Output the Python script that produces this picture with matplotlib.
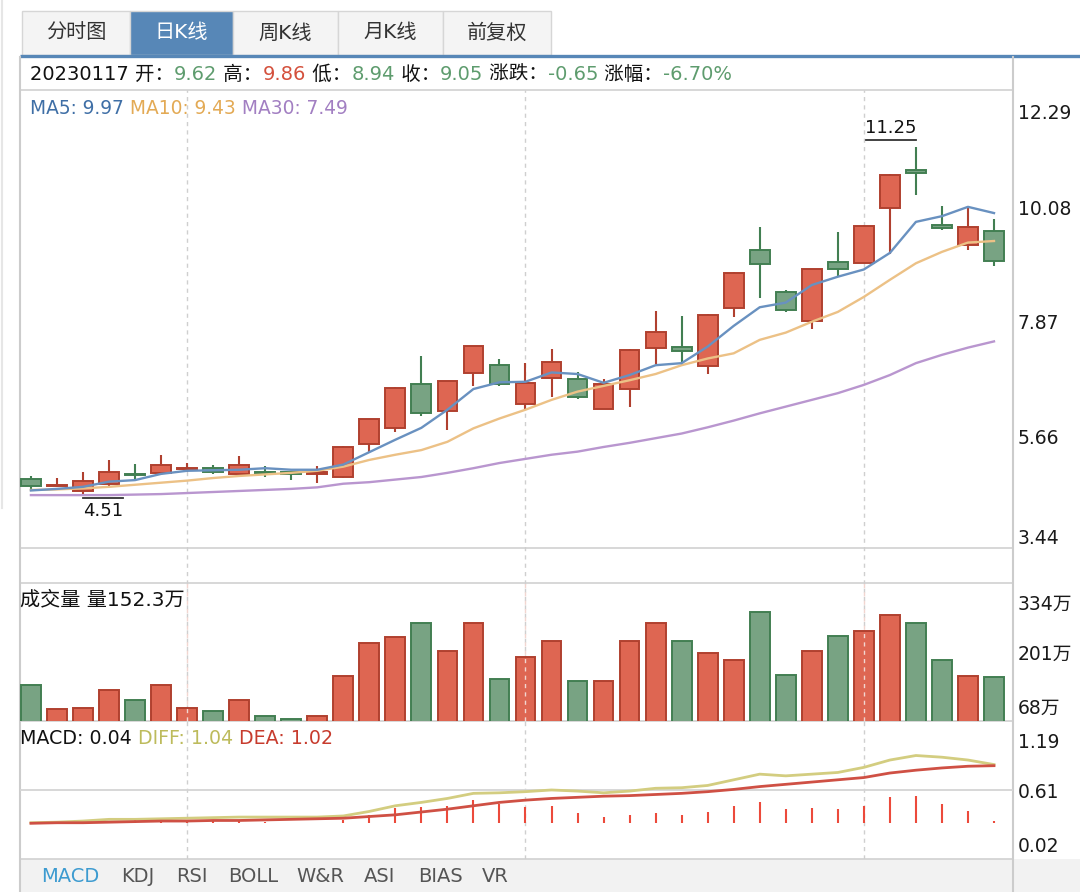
import numpy as np
import matplotlib.pyplot as plt
from matplotlib.patches import Rectangle
from matplotlib.transforms import ScaledTranslation

plt.rcParams['font.family'] = ['DejaVu Sans', 'Noto Sans CJK SC']

# ---------------- data ----------------
day = "20230117"
opens = [4.83, 4.69, 4.59, 4.73, 4.92, 4.94, 5.02, 5.04, 4.93, 4.96,
         4.97, 4.92, 4.87, 5.50, 5.81, 6.66, 6.15, 6.88, 7.03, 6.28,
         6.79, 6.76, 6.19, 6.58, 7.37, 7.38, 7.02, 8.14, 9.26, 8.45,
         7.89, 9.02, 9.01, 10.06, 10.80, 9.73, 9.35, 9.62]
highs = [4.89, 4.85, 4.97, 5.19, 5.12, 5.29, 5.15, 5.10, 5.28, 5.09,
         4.99, 5.09, 5.46, 6.00, 6.60, 7.21, 6.73, 7.40, 7.15, 7.07,
         7.34, 6.90, 6.76, 7.34, 8.08, 7.98, 8.01, 8.83, 9.71, 8.49,
         8.89, 9.60, 9.73, 10.72, 11.25, 10.11, 10.11, 9.86]
lows = [4.62, 4.68, 4.51, 4.69, 4.81, 4.92, 4.97, 4.92, 4.87, 4.87,
        4.81, 4.75, 4.86, 5.33, 5.73, 6.04, 5.77, 6.62, 6.63, 6.17,
        6.41, 6.37, 6.18, 6.22, 7.06, 7.08, 6.86, 7.96, 8.33, 8.05,
        7.73, 8.73, 9.00, 9.18, 10.32, 9.65, 9.25, 8.94]
closes = [4.69, 4.71, 4.80, 4.97, 4.90, 5.11, 5.05, 4.96, 5.11, 4.94,
          4.93, 4.97, 5.45, 5.99, 6.59, 6.11, 6.72, 7.40, 6.67, 6.69,
          7.09, 6.42, 6.67, 7.33, 7.67, 7.30, 8.00, 8.82, 8.98, 8.10,
          8.88, 8.88, 9.72, 10.71, 10.74, 9.68, 9.70, 9.05]
ma5 = [4.61, 4.64, 4.68, 4.78, 4.81, 4.93, 4.99, 5.00, 5.01, 5.04,
       5.01, 5.01, 5.11, 5.35, 5.59, 5.82, 6.17, 6.57, 6.70, 6.71,
       6.89, 6.86, 6.69, 6.84, 7.03, 7.07, 7.39, 7.79, 8.15, 8.24,
       8.58, 8.74, 8.88, 9.20, 9.80, 9.91, 10.09, 9.97]
ma10 = [4.62, 4.63, 4.65, 4.68, 4.72, 4.76, 4.80, 4.85, 4.89, 4.92,
        4.95, 4.99, 5.07, 5.20, 5.30, 5.39, 5.55, 5.81, 6.00, 6.17,
        6.36, 6.52, 6.63, 6.74, 6.86, 7.03, 7.16, 7.26, 7.52, 7.66,
        7.87, 8.06, 8.35, 8.68, 9.00, 9.22, 9.40, 9.43]
ma30 = [4.52, 4.52, 4.52, 4.52, 4.53, 4.54, 4.56, 4.58, 4.60, 4.62,
        4.64, 4.67, 4.74, 4.77, 4.82, 4.87, 4.95, 5.04, 5.14, 5.22,
        5.30, 5.36, 5.45, 5.53, 5.62, 5.71, 5.83, 5.96, 6.10, 6.23,
        6.36, 6.49, 6.65, 6.84, 7.07, 7.23, 7.37, 7.49]
volume = [137, 91, 94, 128, 108, 138, 94, 88, 108, 78,
          71, 78, 155, 219, 229, 256, 202, 256, 148, 192,
          222, 145, 145, 222, 256, 222, 199, 185, 279, 157,
          202, 232, 242, 273, 256, 185, 155, 152.3]  # 万
diff = [0.01, 0.02, 0.04, 0.07, 0.07, 0.08, 0.09, 0.10, 0.11, 0.11,
        0.11, 0.11, 0.13, 0.21, 0.31, 0.37, 0.44, 0.53, 0.54, 0.56,
        0.59, 0.57, 0.54, 0.57, 0.62, 0.63, 0.67, 0.77, 0.87, 0.84,
        0.87, 0.90, 0.99, 1.12, 1.20, 1.17, 1.12, 1.04]
dea = [0.00, 0.01, 0.01, 0.02, 0.03, 0.04, 0.04, 0.05, 0.05, 0.06,
       0.07, 0.08, 0.09, 0.12, 0.15, 0.20, 0.25, 0.31, 0.37, 0.41,
       0.44, 0.46, 0.48, 0.49, 0.51, 0.53, 0.56, 0.60, 0.65, 0.69,
       0.73, 0.77, 0.81, 0.89, 0.94, 0.98, 1.01, 1.02]
macd = [0.00, 0.02, 0.02, 0.04, 0.05, 0.06, 0.06, 0.06, 0.06, 0.03,
        0.01, 0.01, 0.06, 0.14, 0.27, 0.28, 0.31, 0.41, 0.35, 0.28,
        0.30, 0.18, 0.11, 0.14, 0.19, 0.15, 0.20, 0.31, 0.37, 0.26,
        0.27, 0.25, 0.31, 0.46, 0.48, 0.34, 0.21, 0.04]
month_starts = [6, 19, 32]

price_ticks = [3.44, 5.66, 7.87, 10.08, 12.29]
vol_ticks = [68, 201, 334]
macd_tick_labels = ['0.02', '0.61', '1.19']
tabs = ['分时图', '日K线', '周K线', '月K线', '前复权']
indicator_tabs = ['MACD', 'KDJ', 'RSI', 'BOLL', 'W&R', 'ASI', 'BIAS', 'VR']

# ---------------- colours ----------------
RED_FILL, RED_EDGE = '#de6652', '#b0402f'
GREEN_FILL, GREEN_EDGE = '#78a383', '#427f52'
TXT_RED, TXT_GREEN = '#d4503c', '#5e9c6e'
GRID = '#d4d4d4'

W, H = 1080, 892
fig = plt.figure(figsize=(W / 100, H / 100), dpi=100)


def rect(left, top, right, bottom):
    return [left / W, 1 - bottom / H, (right - left) / W, (bottom - top) / H]


# page chrome drawn in pixel coordinates
chrome = fig.add_axes([0, 0, 1, 1], zorder=0)
chrome.set_xlim(0, W)
chrome.set_ylim(H, 0)
chrome.axis('off')

tab_edges = [22, 130, 233, 338, 443, 551]
for i, name in enumerate(tabs):
    sel = i == 1
    chrome.add_patch(Rectangle((tab_edges[i], 11), tab_edges[i + 1] - tab_edges[i], 44,
                               facecolor='#5787b7' if sel else '#f4f4f4',
                               edgecolor='#d6d6d6', lw=1))
    chrome.text((tab_edges[i] + tab_edges[i + 1]) / 2, 33, name, ha='center', va='center',
                fontsize=14.5, color='white' if sel else '#333333')

chrome.plot([20, W], [55.5, 55.5], color='#5787b7', lw=2.4, solid_capstyle='butt')
chrome.add_patch(Rectangle((20, 859), W - 20, 33, facecolor='#f2f2f2', edgecolor='none'))
for yy in [90, 548, 583, 721, 859]:
    chrome.plot([20, 1013], [yy, yy], color=GRID, lw=1.3)
for xx in [20, 1013]:
    chrome.plot([xx, xx], [57, H], color='#cccccc', lw=1.5)
chrome.plot([2, 2], [0, 508], color='#e6e6e6', lw=1.5)

renderer = fig.canvas.get_renderer()


def draw_runs(x0, y0, runs, size):
    for s, c in runs:
        t = chrome.text(x0, y0, s, color=c, fontsize=size, va='center', ha='left')
        x0 += t.get_window_extent(renderer).width


chg = closes[-1] - closes[-2]
pct = chg / closes[-2] * 100
draw_runs(30, 74, [(day + ' 开：', '#111111'), (f'{opens[-1]:.2f}', TXT_GREEN),
                   (' 高：', '#111111'), (f'{highs[-1]:.2f}', TXT_RED),
                   (' 低：', '#111111'), (f'{lows[-1]:.2f}', TXT_GREEN),
                   (' 收：', '#111111'), (f'{closes[-1]:.2f}', TXT_GREEN),
                   (' 涨跌：', '#111111'), (f'{chg:.2f}', TXT_GREEN),
                   (' 涨幅：', '#111111'), (f'{pct:.2f}%', TXT_GREEN)], 14)
draw_runs(30, 108, [(f'MA5: {ma5[-1]:.2f}', '#3f6fa6'), (f' MA10: {ma10[-1]:.2f}', '#e3aa55'),
                    (f' MA30: {ma30[-1]:.2f}', '#a27fc2')], 13.4)
draw_runs(20, 600, [(f'成交量 量{volume[-1]:.1f}万', '#111111')], 14.5)
draw_runs(20, 738, [(f'MACD: {macd[-1]:.2f}', '#111111'), (f' DIFF: {diff[-1]:.2f}', '#bdbb5c'),
                    (f' DEA: {dea[-1]:.2f}', '#c73b2d')], 13.7)

ind_x = [70, 138, 192, 253, 320, 380, 440, 495]
for i, name in enumerate(indicator_tabs):
    chrome.text(ind_x[i], 876, name, ha='center', va='center', fontsize=14,
                color='#3d9bd0' if i == 0 else '#555555')

# ---------------- panels ----------------
n = len(closes)
x = np.arange(n)
xlim = (-0.42, n - 1 + 0.73)
o, c = np.array(opens), np.array(closes)
up = c >= o
fill = np.where(up, RED_FILL, GREEN_FILL)
edge = np.where(up, RED_EDGE, GREEN_EDGE)

ax_bg = fig.add_axes(rect(20, 90, 1013, 859), zorder=1)
ax_bg.set_xlim(*xlim)
ax_bg.axis('off')
for m in month_starts:
    ax_bg.axvline(m, color='#cfcfcf', lw=1, ls=(0, (3, 3)))

ax_p = fig.add_axes(rect(20, 93, 1013, 551), zorder=2)
ax_v = fig.add_axes(rect(20, 583, 1013, 721), zorder=2)
ax_m = fig.add_axes(rect(20, 721, 1013, 859), zorder=2)

# candles
ax_p.vlines(x, lows, highs, colors=edge, lw=1.5, zorder=2)
ax_p.bar(x, np.abs(c - o), bottom=np.minimum(o, c), width=0.76, color=fill,
         edgecolor=edge, lw=1.4, zorder=3)
ax_p.plot(x, ma30, color='#b996cf', lw=1.7, zorder=4)
ax_p.plot(x, ma10, color='#ecc186', lw=1.7, zorder=4)
ax_p.plot(x, ma5, color='#6991c0', lw=1.7, zorder=4)
ax_p.set_ylim(price_ticks[0], price_ticks[-1])

# extreme markers
hi = int(np.argmax(highs))
lo = int(np.argmin(lows))
ax_p.plot([hi - 1.92, hi], [highs[hi] + 0.13] * 2, color='#333333', lw=1.3)
ax_p.annotate(f'{highs[hi]:.2f}', (hi - 0.96, highs[hi] + 0.13), xytext=(0, 2),
              textcoords='offset points', ha='center', va='bottom', fontsize=13, color='#111111')
ax_p.plot([lo, lo + 1.54], [lows[lo] - 0.05] * 2, color='#333333', lw=1.3)
ax_p.annotate(f'{lows[lo]:.2f}', (lo + 0.77, lows[lo] - 0.05), xytext=(0, -3),
              textcoords='offset points', ha='center', va='top', fontsize=13, color='#111111')

# volume
ax_v.bar(x, volume, width=0.76, color=fill, edgecolor=edge, lw=1.4)
for m in month_starts:
    ax_v.axvline(m, color='#f2d6d0', lw=1, ls=(0, (3, 3)), zorder=3)
ax_v.set_ylim(vol_ticks[0], vol_ticks[-1])

# macd
ax_m.vlines(x, 0, macd, colors='#ec4a3b', lw=1.5)
ax_m.plot(x, diff, color='#d3cd80', lw=2)
ax_m.plot(x, dea, color='#cf5044', lw=2)
ax_m.set_ylim(-0.632, 1.811)
m_lo, m_hi = ax_m.get_ylim()
macd_tick_pos = np.linspace(m_lo, m_hi, 3)
ax_m.axhline(macd_tick_pos[1], color=GRID, lw=1.3, zorder=0)

for ax, ticks, labels in [(ax_p, price_ticks, [f'{t:.2f}' for t in price_ticks]),
                          (ax_v, vol_ticks, [f'{t}万' for t in vol_ticks]),
                          (ax_m, macd_tick_pos, macd_tick_labels)]:
    ax.set_facecolor('none')
    ax.set_xlim(*xlim)
    ax.set_xticks([])
    for s in ax.spines.values():
        s.set_visible(False)
    ax.yaxis.tick_right()
    ax.set_yticks(ticks, labels)
    ax.tick_params(axis='y', length=0, pad=3.6, labelsize=13.5, labelcolor='#1a1a1a')
    lbls = ax.get_yticklabels()
    lbls[0].set_transform(lbls[0].get_transform() + ScaledTranslation(0, 0.15, fig.dpi_scale_trans))
    lbls[-1].set_transform(lbls[-1].get_transform() + ScaledTranslation(0, -0.19, fig.dpi_scale_trans))

fig.savefig('out.png', dpi=100)
